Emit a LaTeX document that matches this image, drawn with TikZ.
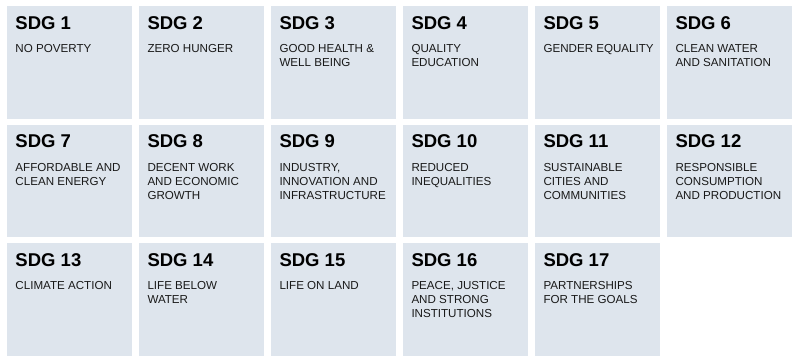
\documentclass[tikz,border=0pt]{standalone}
\usepackage{fontspec}
\setmainfont{Liberation Sans}
\usetikzlibrary{positioning}
\definecolor{tilegray}{RGB}{222,229,237}
\definecolor{inkgray}{RGB}{25,25,25}
% title on top, goal text below
\newcommand{\goal}[2]{\parbox[t][112.5pt][t]{125.5pt}{\raggedright\leftskip=9pt\vspace*{10.5pt}%
  {\fontsize{18.5}{14}\selectfont\bfseries #1\par}\vspace{9.5pt}%
  {\fontsize{11.6}{14}\selectfont\color{inkgray}#2\par}}}

\begin{document}
\begin{tikzpicture}[
  x=1pt, y=1pt,
  node distance=6pt and 6.5pt,
  tile/.style={rectangle, fill=tilegray, inner sep=0pt, outer sep=0pt,
               minimum width=125.5pt, minimum height=112.5pt, anchor=north west}
]
\useasboundingbox (0,0) rectangle (800,-362);

\node[tile] (sdg1) at (6.5,-6) {\goal{SDG 1}{NO POVERTY}};
\node[tile, right=of sdg1] (sdg2) {\goal{SDG 2}{ZERO HUNGER}};
\node[tile, right=of sdg2] (sdg3) {\goal{SDG 3}{GOOD HEALTH \&\\WELL BEING}};
\node[tile, right=of sdg3] (sdg4) {\goal{SDG 4}{QUALITY\\EDUCATION}};
\node[tile, right=of sdg4] (sdg5) {\goal{SDG 5}{GENDER EQUALITY}};
\node[tile, right=of sdg5] (sdg6) {\goal{SDG 6}{CLEAN WATER\\AND SANITATION}};

\node[tile, below=of sdg1] (sdg7) {\goal{SDG 7}{AFFORDABLE AND\\CLEAN ENERGY}};
\node[tile, right=of sdg7] (sdg8) {\goal{SDG 8}{DECENT WORK\\AND ECONOMIC\\GROWTH}};
\node[tile, right=of sdg8] (sdg9) {\goal{SDG 9}{INDUSTRY,\\INNOVATION AND\\INFRASTRUCTURE}};
\node[tile, right=of sdg9] (sdg10) {\goal{SDG 10}{REDUCED\\INEQUALITIES}};
\node[tile, right=of sdg10] (sdg11) {\goal{SDG 11}{SUSTAINABLE\\CITIES AND\\COMMUNITIES}};
\node[tile, right=of sdg11] (sdg12) {\goal{SDG 12}{RESPONSIBLE\\CONSUMPTION\\AND PRODUCTION}};

\node[tile, below=of sdg7] (sdg13) {\goal{SDG 13}{CLIMATE ACTION}};
\node[tile, right=of sdg13] (sdg14) {\goal{SDG 14}{LIFE BELOW\\WATER}};
\node[tile, right=of sdg14] (sdg15) {\goal{SDG 15}{LIFE ON LAND}};
\node[tile, right=of sdg15] (sdg16) {\goal{SDG 16}{PEACE, JUSTICE\\AND STRONG\\INSTITUTIONS}};
\node[tile, right=of sdg16] (sdg17) {\goal{SDG 17}{PARTNERSHIPS\\FOR THE GOALS}};
\end{tikzpicture}
\end{document}
